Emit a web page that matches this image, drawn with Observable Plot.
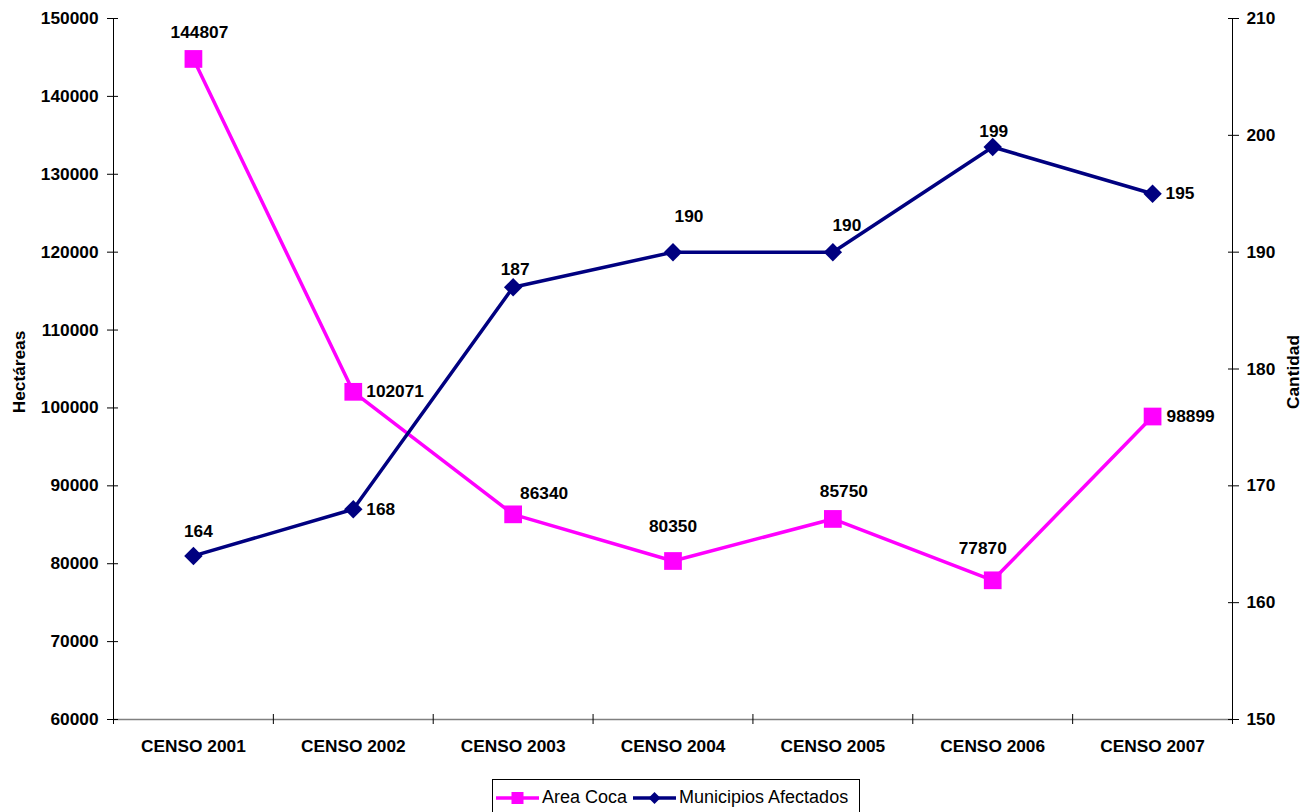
<!DOCTYPE html>
<html>
<head>
<meta charset="utf-8">
<script src="https://cdn.jsdelivr.net/npm/d3@7"></script>
<script src="https://cdn.jsdelivr.net/npm/@observablehq/plot@0.6"></script>
<style>
  html, body { margin: 0; padding: 0; background: #fff; width: 1312px; height: 812px; overflow: hidden; }
  #wrap { position: relative; width: 1312px; height: 812px; }
  #wrap svg { position: absolute; left: 0; top: 0; }
  #legend {
    position: absolute; left: 492px; top: 779px; width: 368px; height: 44px;
    border: 1px solid #000; box-sizing: border-box; background: #fff;
    font-family: "Liberation Sans", Arial, sans-serif; font-size: 18px; color: #000;
    display: flex; align-items: center; padding: 0 0 7px 3px; white-space: nowrap;
  }
  #legend .item { display: flex; align-items: center; }
  #legend svg { position: static; display: block; }
</style>
</head>
<body>
<div id="wrap"></div>
<script>
// ---- data ----
const categories = ["CENSO 2001", "CENSO 2002", "CENSO 2003", "CENSO 2004", "CENSO 2005", "CENSO 2006", "CENSO 2007"];
const areaCoca = [144807, 102071, 86340, 80350, 85750, 77870, 98899];
const municipios = [164, 168, 187, 190, 190, 199, 195];
const leftTicks = [60000, 70000, 80000, 90000, 100000, 110000, 120000, 130000, 140000, 150000];
const rightTicks = [150, 160, 170, 180, 190, 200, 210];
const seriesNames = ["Area Coca", "Municipios Afectados"];
const leftTitle = "Hectáreas";
const rightTitle = "Cantidad";

// ---- label placement (style) ----
const cocaLabelPlace = [[6, -26, "middle"], [13, 0, "start"], [31, -21, "middle"], [0, -35, "middle"], [11, -27, "middle"], [-10, -32, "middle"], [14, 0, "start"]];
const muniLabelPlace = [[5, -24, "middle"], [13, 0, "start"], [2, -18, "middle"], [16, -36, "middle"], [14, -27, "middle"], [1, -16, "middle"], [13, 0, "start"]];

const PINK = "#FF00FF", NAVY = "#000080";
const W = 1312, H = 770;
const margins = {marginLeft: 113, marginRight: 80, marginTop: 18, marginBottom: 51};
const xDomain = [-0.5, categories.length - 0.5];
const font = {fontFamily: "'Liberation Sans', Arial, sans-serif", fontSize: "17.3px", fontWeight: "bold", background: "transparent", overflow: "visible", color: "#000"};

const coca = areaCoca.map((v, i) => ({i, v, label: String(v)}));
const muni = municipios.map((v, i) => ({i, v, label: String(v)}));

function labelMarks(data, place) {
  return data.map((d, k) => Plot.text([d], {
    x: "i", y: "v", text: "label",
    dx: place[k][0], dy: place[k][1], textAnchor: place[k][2],
    fill: "#000", fontWeight: "bold"
  }));
}

const plotLeft = Plot.plot({
  width: W, height: H, ...margins,
  style: font,
  x: {domain: xDomain},
  y: {domain: [60000, 150000]},
  marks: [
    Plot.ruleY([60000], {stroke: "#808080", strokeWidth: 1.5}),
    Plot.ruleX([xDomain[0]], {stroke: "#000"}),
    Plot.axisX({ticks: d3.range(categories.length + 1).map(i => i - 0.5), tickSize: 10, dy: -5, tickFormat: () => "", stroke: "#000", label: null}),
    Plot.axisX({ticks: d3.range(categories.length), tickSize: 0, tickPadding: 20, tickFormat: i => categories[i], fontWeight: "bold", label: null}),
    Plot.axisY({ticks: leftTicks, tickSize: 11, dx: 5, tickFormat: () => "", label: null}),
    Plot.axisY({ticks: leftTicks, tickSize: 0, tickPadding: 15, tickFormat: d => String(d), fontWeight: "bold", label: null}),
    Plot.text([leftTitle], {frameAnchor: "left", textAnchor: "middle", rotate: -90, dx: -94, dy: 3, fontWeight: "bold"}),
    Plot.line(coca, {x: "i", y: "v", stroke: PINK, strokeWidth: 3.5}),
    Plot.dot(coca, {x: "i", y: "v", symbol: "square", r: 10, fill: PINK, stroke: "none"}),
    ...labelMarks(coca, cocaLabelPlace)
  ]
});

const plotRight = Plot.plot({
  width: W, height: H, ...margins,
  style: font,
  x: {domain: xDomain, axis: null},
  y: {domain: [150, 210], axis: null},
  marks: [
    Plot.ruleX([xDomain[1]], {stroke: "#000"}),
    Plot.axisY({anchor: "right", ticks: rightTicks, tickSize: 11, dx: -5, tickFormat: () => "", label: null}),
    Plot.axisY({anchor: "right", ticks: rightTicks, tickSize: 0, tickPadding: 14, tickFormat: d => String(d), fontWeight: "bold", label: null}),
    Plot.text([rightTitle], {frameAnchor: "right", textAnchor: "middle", rotate: -90, dx: 61, dy: 3, fontWeight: "bold"}),
    Plot.line(muni, {x: "i", y: "v", stroke: NAVY, strokeWidth: 3.5}),
    Plot.dot(muni, {x: "i", y: "v", symbol: "diamond2", r: 8.3, fill: NAVY, stroke: "none"}),
    ...labelMarks(muni, muniLabelPlace)
  ]
});

const wrap = document.getElementById("wrap");
wrap.appendChild(plotLeft);
wrap.appendChild(plotRight);

// ---- legend ----
const legend = document.createElement("div");
legend.id = "legend";
function swatch(color, kind) {
  const ns = "http://www.w3.org/2000/svg";
  const s = document.createElementNS(ns, "svg");
  s.setAttribute("width", 43); s.setAttribute("height", 16);
  const l = document.createElementNS(ns, "line");
  l.setAttribute("x1", 0); l.setAttribute("x2", 43); l.setAttribute("y1", 8); l.setAttribute("y2", 8);
  l.setAttribute("stroke", color); l.setAttribute("stroke-width", 3.5);
  s.appendChild(l);
  let m;
  if (kind === "square") {
    m = document.createElementNS(ns, "rect");
    m.setAttribute("x", 15.5); m.setAttribute("y", 2); m.setAttribute("width", 12); m.setAttribute("height", 12);
  } else {
    m = document.createElementNS(ns, "path");
    m.setAttribute("d", "M21.5,2L27.5,8L21.5,14L15.5,8Z");
  }
  m.setAttribute("fill", color);
  s.appendChild(m);
  return s;
}
[[seriesNames[0], PINK, "square"], [seriesNames[1], NAVY, "diamond"]].forEach(([name, color, kind], k) => {
  const it = document.createElement("div");
  it.className = "item";
  if (k > 0) it.style.marginLeft = "6px";
  it.appendChild(swatch(color, kind));
  const t = document.createElement("span");
  t.textContent = name;
  t.style.marginLeft = "3px";
  it.appendChild(t);
  legend.appendChild(it);
});
wrap.appendChild(legend);
</script>
</body>
</html>
